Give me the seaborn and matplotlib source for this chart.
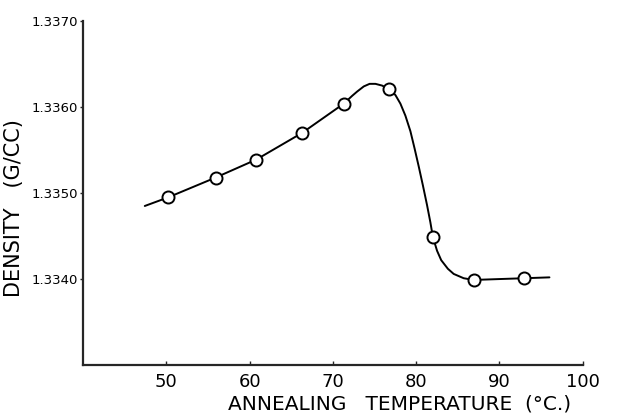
import pandas as pd
import matplotlib
matplotlib.use("Agg")
import matplotlib.pyplot as plt
import seaborn as sns

temp_pts = [50.2, 55.9, 60.8, 66.3, 71.3, 76.7, 82.0, 86.9, 93.0]
dens_pts = [1.33495, 1.33518, 1.33539, 1.33570, 1.33604, 1.33621, 1.33449, 1.33399, 1.33401]

# hand drawn smooth curve
curve_t = [47.4, 50.2, 55.9, 60.8, 66.3, 71.3, 72.3, 72.9, 73.7, 74.4, 75.1, 75.9,
           76.7, 77.5, 78.1, 78.7, 79.3, 79.8, 80.3, 80.8, 81.3, 81.7, 82.0, 82.5,
           83.0, 83.8, 84.5, 85.7, 86.9, 89.9, 93.0, 96.0]
curve_d = [1.33485, 1.33495, 1.33518, 1.33539, 1.33570, 1.33604, 1.33613, 1.33618,
           1.33624, 1.33627, 1.33627, 1.33625, 1.33621, 1.33614, 1.33604, 1.33590,
           1.33572, 1.33552, 1.33531, 1.33509, 1.33486, 1.33466, 1.33449, 1.33433,
           1.33422, 1.33412, 1.33406, 1.33401, 1.33399, 1.33400, 1.33401, 1.33402]

xticks = [50, 60, 70, 80, 90, 100]
yticks = [1.3340, 1.3350, 1.3360, 1.3370]
ytick_labels = ["1.3340", "1.3350", "1.3360", "1.3370"]

pts = pd.DataFrame({"temp": temp_pts, "density": dens_pts})
curve = pd.DataFrame({"temp": curve_t, "density": curve_d})

sns.set_style("ticks")
plt.rcParams["font.family"] = ["DejaVu Sans"]

fig = plt.figure(figsize=(6.3, 4.13), dpi=100)
ax = fig.add_axes([0.132, 0.116, 0.793, 0.833])

sns.lineplot(data=curve, x="temp", y="density", color="black", linewidth=1.4,
             sort=False, ax=ax, zorder=2)
sns.scatterplot(data=pts, x="temp", y="density", s=75, facecolor="white",
                edgecolor="black", linewidth=1.4, ax=ax, zorder=3)

ax.set_xlim(40, 100)
ax.set_ylim(1.3330, 1.3370)
ax.set_xticks(xticks)
ax.set_xticklabels([str(t) for t in xticks], fontsize=13, color="black")
ax.set_yticks(yticks)
ax.set_yticklabels(ytick_labels, fontsize=9.5, color="black")
ax.tick_params(axis="x", direction="in", length=3, width=1, pad=6)
ax.tick_params(axis="y", direction="out", length=2, width=1, pad=2)

sns.despine(ax=ax)
ax.spines["left"].set_linewidth(1.6)
ax.spines["bottom"].set_linewidth(1.6)

ax.set_xlabel("ANNEALING   TEMPERATURE  (°C.)", fontsize=14.5, color="black")
ax.set_ylabel("DENSITY   (G/CC)", fontsize=15, color="black")
ax.xaxis.set_label_coords(0.634, -0.085)
ax.yaxis.set_label_coords(-0.118, 0.455)

fig.savefig("out.png", dpi=100)
